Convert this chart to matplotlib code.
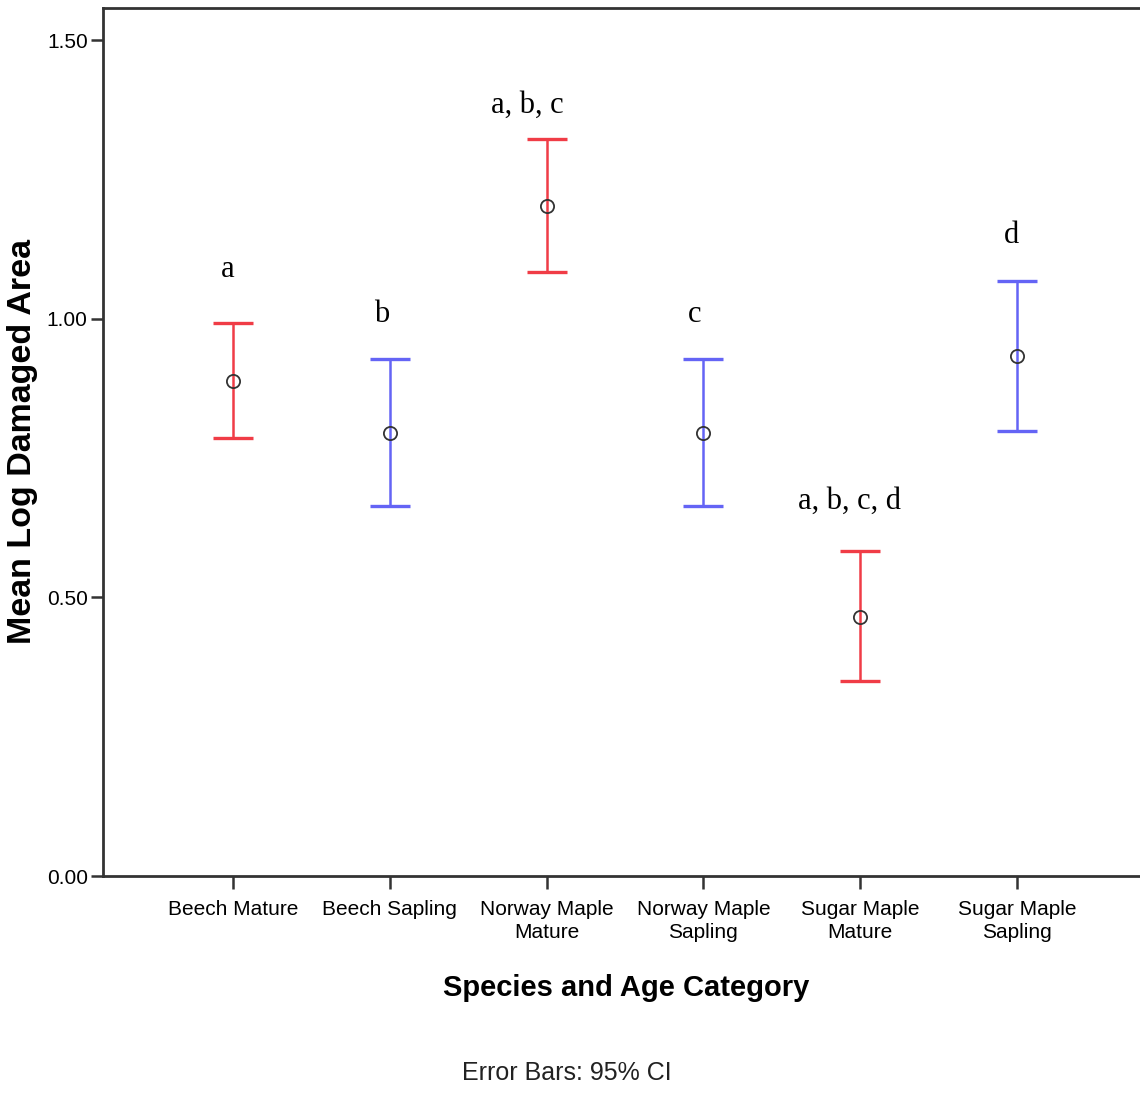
import matplotlib
matplotlib.use("Agg")
import matplotlib.pyplot as plt

categories = ["Beech Mature", "Beech Sapling", "Norway Maple\nMature",
              "Norway Maple\nSapling", "Sugar Maple\nMature", "Sugar Maple\nSapling"]
means = [0.888, 0.795, 1.202, 0.795, 0.465, 0.933]
upper = [0.992, 0.928, 1.322, 0.928, 0.583, 1.068]
lower = [0.786, 0.664, 1.084, 0.664, 0.350, 0.798]
group = ["mature", "sapling", "mature", "sapling", "mature", "sapling"]
letters = ["a", "b", "a, b, c", "c", "a, b, c, d", "d"]
yticks = [0.00, 0.50, 1.00, 1.50]

colors = {"mature": "#f03c46", "sapling": "#6464f5"}
sans = "Liberation Sans"

W, H = 1140, 1093
dpi = 100
fig = plt.figure(figsize=(W / dpi, H / dpi), dpi=dpi)
ax = fig.add_axes([103 / W, 1 - 876 / H, 1044 / W, (876 - 8) / H])

for i, (m, u, l, g) in enumerate(zip(means, upper, lower, group)):
    c = colors[g]
    ax.errorbar([i], [m], yerr=[[m - l], [u - m]], fmt="none", ecolor=c,
                elinewidth=1.8, capsize=14.4, capthick=2.4, zorder=2)
    ax.plot([i], [m], marker="o", markersize=9.5, markerfacecolor="none",
            markeredgecolor="#333333", markeredgewidth=1.3, linestyle="none", zorder=3)

# significance letters
x_off = [-5, -8, -19, -9, -11, -5]
y_off = [55, 46, 35, 46, 51, 47]
for i, (t, u) in enumerate(zip(letters, upper)):
    ax.annotate(t, xy=(i, u), xytext=(x_off[i] * 0.72, y_off[i] * 0.72 - 1),
                textcoords="offset points", ha="center", va="center",
                fontsize=22, family="Liberation Serif", color="black")

ax.set_xlim(-0.83, 5.83)
ax.set_ylim(0, 1.5575)
ax.set_xticks(range(len(categories)))
ax.set_xticklabels(categories, family=sans, fontsize=15, linespacing=1.3)
ax.set_yticks(yticks)
ax.set_yticklabels([f"{v:.2f}" for v in yticks], family=sans, fontsize=15)
ax.tick_params(axis="both", length=9, width=1.8, color="#333333")
ax.tick_params(axis="x", pad=8)
ax.tick_params(axis="y", pad=2)
for s in ax.spines.values():
    s.set_linewidth(2)
    s.set_color("#333333")

ax.set_ylabel("Mean Log Damaged Area", family=sans, fontweight="bold", fontsize=24.5)
ax.yaxis.set_label_coords((38 - 103) / 1044, 0.5)
ax.set_xlabel("Species and Age Category", family=sans, fontweight="bold", fontsize=21)
ax.xaxis.set_label_coords((626 - 103) / 1044, -(974 - 876) / 868)

fig.text(567 / W, 1 - 1073 / H, "Error Bars: 95% CI", family=sans, fontsize=18,
         ha="center", va="center", color="#222222")

fig.savefig("out.png", dpi=dpi)
